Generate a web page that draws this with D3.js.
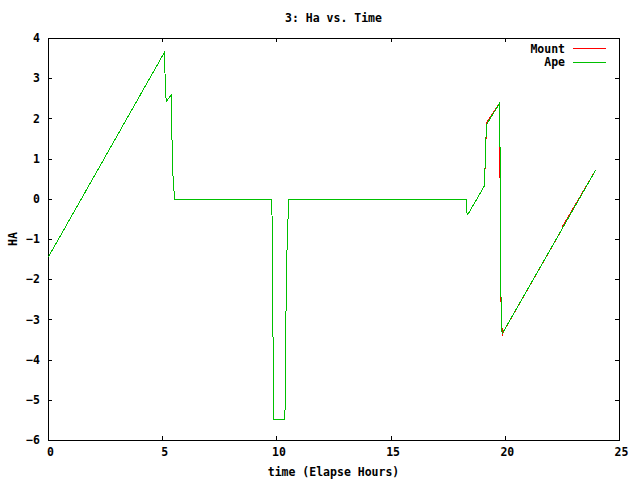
<!DOCTYPE html>
<html>
<head>
<meta charset="utf-8">
<script src="https://cdn.jsdelivr.net/npm/d3@7"></script>
<style>
  html, body { margin: 0; padding: 0; background: #fff; }
  svg text { font-family: "DejaVu Sans Mono", monospace; font-weight: bold; font-size: 11.5px; fill: #000; }
</style>
</head>
<body>
<svg id="chart" width="640" height="480"></svg>
<script>
// ---- data (hours, HA) ----
const mountTime = [0, 5.09, 5.11, 5.16, 5.39, 5.41, 5.46, 5.53, 9.78, 9.80, 9.84, 9.86, 10.35, 10.37, 10.40, 10.44, 10.49, 10.52, 18.29, 18.30, 18.36, 19.10, 19.10, 19.13, 19.13, 19.18, 19.18, 19.20, 19.76, 19.76, 19.79, 19.79, 19.82, 19.85, 19.86, 19.94, 22.50, 22.52, 23.95];
const mountHA   = [-1.43, 3.67, 2.73, 2.44, 2.61, 1.30, 0.43, 0, 0, -1.39, -4.13, -5.49, -5.49, -4.57, -2.72, -1.33, -0.44, 0, 0, -0.30, -0.38, 0.35, 0.76, 0.77, 1.50, 1.52, 1.92, 1.92, 2.40, 0.55, 0.50, -1.89, -2.80, -2.85, -3.40, -3.27, -0.73, -0.66, 0.72];
const apeTime   = [0, 5.09, 5.11, 5.16, 5.39, 5.41, 5.46, 5.53, 9.78, 9.80, 9.84, 9.86, 10.35, 10.37, 10.40, 10.44, 10.49, 10.52, 18.29, 18.30, 18.36, 19.10, 19.11, 19.14, 19.20, 19.76, 19.77, 19.79, 19.82, 19.86, 19.94, 23.95];
const apeHA     = [-1.43, 3.67, 2.73, 2.44, 2.61, 1.30, 0.43, 0, 0, -1.39, -4.13, -5.49, -5.49, -4.57, -2.72, -1.33, -0.44, 0, 0, -0.30, -0.38, 0.35, 0.72, 1.43, 1.88, 2.40, 1.05, -1.39, -2.80, -3.34, -3.27, 0.72];
const xTicks = [0, 5, 10, 15, 20, 25];
const yTicks = [-6, -5, -4, -3, -2, -1, 0, 1, 2, 3, 4];
const seriesNames = ["Mount", "Ape"];
const seriesColors = ["#ff0000", "#00c000"];
const titleText = "3: Ha vs. Time";
const xLabelText = "time (Elapse Hours)";
const yLabelText = "HA";

// ---- layout ----
const L = 48, R = 619, T = 38, B = 440;
const svg = d3.select("#chart");
const x = d3.scaleLinear().domain([0, 25]).range([L, R]);
const y = d3.scaleLinear().domain([-6, 4]).range([B, T]);

const tick = 4;
function styleAxis(g) {
  g.select(".domain").remove();
  g.selectAll("line").attr("stroke", "#000").attr("shape-rendering", "crispEdges");
  g.selectAll("text").attr("font-size", null).attr("font-family", null);
}
svg.append("g").attr("transform", `translate(0,${B})`)
  .call(d3.axisBottom(x).tickValues(xTicks).tickSizeInner(-tick).tickSizeOuter(0).tickPadding(8).tickFormat(d3.format("d")))
  .call(styleAxis)
  .selectAll("text").attr("dx", 2);
svg.append("g").attr("transform", `translate(0,${T})`)
  .call(d3.axisTop(x).tickValues(xTicks).tickSizeInner(-tick).tickSizeOuter(0).tickFormat(""))
  .call(styleAxis);
svg.append("g").attr("transform", `translate(${L},0)`)
  .call(d3.axisLeft(y).tickValues(yTicks).tickSizeInner(-tick).tickSizeOuter(0).tickPadding(8).tickFormat(d3.format("d")))
  .call(styleAxis);
svg.append("g").attr("transform", `translate(${R},0)`)
  .call(d3.axisRight(y).tickValues(yTicks).tickSizeInner(-tick).tickSizeOuter(0).tickFormat(""))
  .call(styleAxis);

svg.append("rect").attr("x", L + 0.5).attr("y", T + 0.5).attr("width", R - L).attr("height", B - T)
  .attr("fill", "none").attr("stroke", "#000").attr("stroke-width", 1).attr("shape-rendering", "crispEdges");

// ---- lines ----
const line = d3.line().x(d => x(d[0]) + 0.5).y(d => y(d[1]) + 0.5);
const mountData = mountTime.map((t, i) => [t, mountHA[i]]);
const apeData = apeTime.map((t, i) => [t, apeHA[i]]);
[mountData, apeData].forEach((data, i) => {
  svg.append("path").datum(data).attr("d", line)
    .attr("fill", "none").attr("stroke", seriesColors[i]).attr("stroke-width", 1)
    .attr("shape-rendering", "crispEdges");
});

// ---- legend ----
seriesNames.forEach((name, i) => {
  const ly = 48.5 + i * 13.5;
  svg.append("text").attr("x", 565).attr("y", ly + 4).attr("text-anchor", "end").text(name);
  svg.append("line").attr("x1", 573).attr("x2", 606).attr("y1", Math.floor(ly) + 0.5).attr("y2", Math.floor(ly) + 0.5)
    .attr("stroke", seriesColors[i]).attr("stroke-width", 1).attr("shape-rendering", "crispEdges");
});

// ---- titles ----
svg.append("text").attr("x", (L + R) / 2).attr("y", 22).attr("text-anchor", "middle").text(titleText);
svg.append("text").attr("x", (L + R) / 2).attr("y", 476).attr("text-anchor", "middle").text(xLabelText);
svg.append("text").attr("transform", `translate(17,${(T + B) / 2}) rotate(-90)`).attr("text-anchor", "middle").text(yLabelText);
</script>
</body>
</html>
